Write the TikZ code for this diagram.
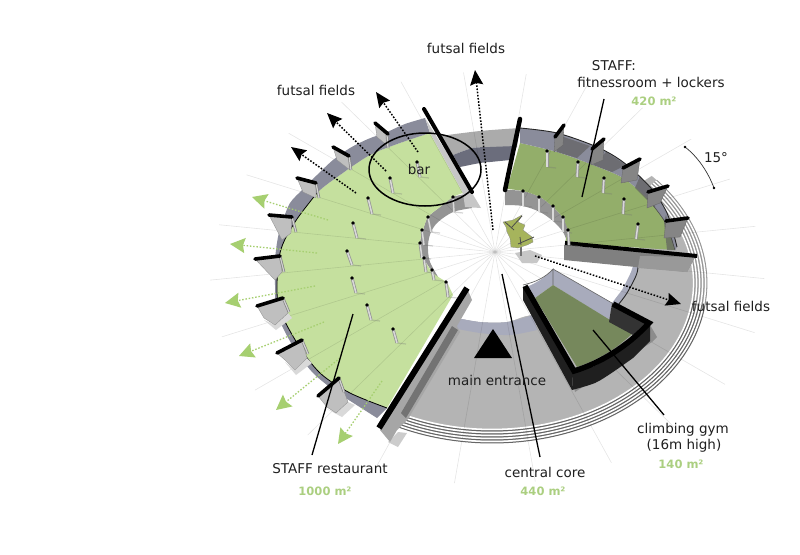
\documentclass[tikz,border=0pt]{standalone}
\usepackage{fontspec}
\setmainfont{DejaVu Sans}
\usetikzlibrary{arrows.meta}
\definecolor{lgreen}{HTML}{C5E09E}
\definecolor{dgreen}{HTML}{93AE6A}
\definecolor{gymgreen}{HTML}{76885C}
\definecolor{gtext}{HTML}{ABCF80}
\definecolor{garrow}{HTML}{A6CF70}
\definecolor{ground}{HTML}{B4B4B4}
\definecolor{bandblue}{HTML}{A8ABBC}
\definecolor{banddark}{HTML}{8A8C9B}
\definecolor{ringdark}{HTML}{6B6D7C}
\definecolor{leaf}{HTML}{A6B45C}
\tikzset{
  x=1pt,y=-1pt,
  lbl/.style={inner sep=0pt,font=\fontsize{13.5}{15}\selectfont,text=black!88},
  area/.style={inner sep=0pt,font=\fontsize{11.5}{14}\selectfont\bfseries,text=gtext},
  leader/.style={draw=black,line width=1.3pt},
  bdot/.style={draw=black,line width=1.5pt,dash pattern=on 1.6pt off 1.6pt,-{Stealth[length=15pt,width=13pt,inset=2pt]}},
  gdot/.style={draw=garrow,line width=1.3pt,dash pattern=on 1.5pt off 1.8pt,-{Stealth[length=15pt,width=15pt,inset=2pt]}},
  finbar/.style={line width=3.6pt,line cap=round,draw=black},
  finL/.style={fill=black!25,draw=black!45,line width=.3pt},
  finR/.style={fill=black!48,draw=black!60,line width=.3pt},
}
\newcommand\postat[4]{%
  \draw[black!55,opacity=.3,line width=1.2pt] (#3,#4) -- ++(9,1);
  \draw[black!42,line width=3pt] (#1,#2) -- (#3,#4);
  \draw[black!15,line width=1.5pt] (#1,#2) -- (#3,#4);
  \fill[black] (#1,#2) circle[radius=1.9];}
\begin{document}
\begin{tikzpicture}
\path[use as bounding box,fill=white] (0,0) rectangle (800,554);

% ground with steps
\fill[ground] plot[domain=-42:118,samples=90] ({492+215*cos(\x)},{283+160*sin(\x)}) -- (470,290) -- cycle;
\foreach \i in {0,3,6,9,12}{
  \draw[white,line width=1.8pt] plot[domain=8:118,samples=70] ({492+(213.6-\i)*cos(\x)},{283+(158.6-\i)*sin(\x)});
  \draw[black!60,line width=1pt] plot[domain=8:118,samples=70] ({492+(215-\i)*cos(\x)},{283+(160-\i)*sin(\x)});
  \draw[white,line width=1.5pt] plot[domain=-40:8,samples=40] ({492+(213.6-\i)*cos(\x)},{283+(158.6-\i)*sin(\x)});
  \draw[black!42,line width=.8pt] plot[domain=-40:8,samples=40] ({492+(215-\i)*cos(\x)},{283+(160-\i)*sin(\x)});
}
% hole
\fill[white] plot[smooth] coordinates {(640,240)(639,253)(637,273)(627,293)(612,308)(585,318)(533,315)(507,322)(480,322)(452,317)} -- (430,250) -- (500,175) -- cycle;
% back ring
\fill[black!33] plot[smooth] coordinates {(440,136)(480,131)(520,128)} -- (517,147) -- plot[smooth] coordinates {(490,147)(473,148)(453,155)} -- cycle;
\fill[ringdark] plot[smooth] coordinates {(453,155)(473,148)(490,147)(517,146)} -- (510,160) -- plot[smooth] coordinates {(490,162)(480,163)(460,167)} -- cycle;
% front ring band
\fill[bandblue] plot[smooth] coordinates {(452,317)(480,322)(507,322)(533,315)} -- plot[smooth] coordinates {(537,330)(510,335)(480,333)(453,328)} -- cycle;
\fill[bandblue] plot[smooth] coordinates {(639,258)(637,273)(627,293)(618,305)} -- (612,303) -- plot[smooth] coordinates {(622,290)(631,272)(635,258)} -- cycle;
\draw[black!85,line width=.9pt] plot[smooth] coordinates {(639,253)(637,273)(627,293)(618,305)};
% inner wall bands (behind the floors)
\fill[black!42] plot[smooth] coordinates {(472,193)(453,197)(440,207)(428,217)(423,230)(420,243)(423,257)(433,273)} -- plot[smooth] coordinates {(443,285)(430,262)(428,245)(431,232)(438,222)(453,212)(472,208)} -- cycle;
\fill[black!42] plot[smooth] coordinates {(505,190)(523,191)(540,197)(553,207)(563,218)(568,230)(565,243)} -- plot[smooth] coordinates {(568,250)(568,245)(563,232)(553,221)(540,212)(523,206)(505,205)} -- cycle;
% green floors
\fill[lgreen] plot[smooth] coordinates {(430,133)(400,143)(370,155)(340,175)(317,193)(295,222)(280,253)(278,303)(297,343)(320,373)(350,393)(387,408)} -- (453,295) -- plot[smooth] coordinates {(447,282)(433,273)(423,257)(420,243)(423,230)(428,217)(440,207)(453,197)(463,193)} -- cycle;
\fill[dgreen] plot[smooth] coordinates {(520,143)(557,152)(593,165)(623,178)(647,198)(665,222)(675,250)} -- (565,243) -- plot[smooth] coordinates {(568,230)(563,218)(553,207)(540,197)(523,191)(507,189)} -- cycle;
% radial lines
\foreach \k in {0,...,23}{
  \pgfmathsetmacro\t{7.5+15*\k}
  \pgfmathsetmacro\a{275+35*sin(\t)-8*cos(\t)}
  \draw[black,opacity=.10,line width=.6pt] (495,252) -- ++({\a*cos(\t)},{.75*\a*sin(\t)});
}
\fill[black!25] (495,252) circle[radius=1.6];
% left wing wall
\fill[banddark] plot[smooth] coordinates {(425,118)(405,124)(387,132)(368,139)(350,148)(333,160)(317,175)(302,190)(290,203)(283,220)(278,237)(275,260)(275,285)(276,310)(285,332)(298,354)(314,374)(335,391)(355,404)(377,418)} -- plot[smooth] coordinates {(387,408)(350,393)(320,373)(297,343)(278,303)(280,253)(295,222)(317,193)(340,175)(370,155)(400,143)(430,133)} -- cycle;
\draw[black,line width=.8pt] plot[smooth] coordinates {(387,408)(350,393)(320,373)(297,343)(278,303)(280,253)(295,222)(317,193)};
% right wing wall
\fill[banddark] plot[smooth] coordinates {(520,128)(557,133)(597,147)(623,162)(650,187)(667,213)(677,247)} -- plot[smooth] coordinates {(675,250)(665,222)(647,198)(623,178)(593,165)(557,152)(520,143)} -- cycle;
\fill[black!62,opacity=.7] (558,135) -- (590,146) -- (577,158) -- (557,152) -- cycle;
\fill[black!62,opacity=.7] (606,152) -- (626,165) -- (612,172) -- (593,165) -- cycle;
\fill[black!62,opacity=.7] (640,176) -- (656,195) -- (655,208) -- (635,188) -- cycle;
\fill[black!62,opacity=.7] (666,215) -- (675,250) -- (667,250) -- (664,222) -- cycle;
\draw[black!85,line width=.9pt] plot[smooth] coordinates {(520,128)(557,133)(597,147)(623,162)(650,187)(667,213)(677,247)};
\draw[black!70,line width=.6pt] plot[smooth] coordinates {(647,198)(665,222)(675,250)};
% right fins
\fill[finR] (564,125) -- (555,137) -- (554,152) -- (563,145) -- cycle;
\fill[finR] (604,139) -- (592,149) -- (591,165) -- (603,160) -- cycle;
\fill[finR] (640,159) -- (623,168) -- (621,183) -- (637,180) -- cycle;
\fill[finR] (668,186) -- (648,192) -- (647,208) -- (660,203) -- cycle;
\fill[finR] (688,218) -- (666,221) -- (664,238) -- (680,237) -- cycle;
\draw[finbar] (555,137) -- (564,125);
\draw[finbar] (592,149) -- (604,139);
\draw[finbar] (623,168) -- (640,159);
\draw[finbar] (648,192) -- (668,186);
\draw[finbar] (666,221) -- (688,218);
% left fins
\fill[finL] (375,123) -- (388,134) -- (388,146) -- (377,137) -- cycle;
\fill[finL] (333,147) -- (349,156) -- (350,170) -- (337,160) -- cycle;
\fill[finL] (297,178) -- (316,183) -- (316,198) -- (303,192) -- cycle;
\fill[finL] (269,215) -- (292,217) -- (291,233) -- (282,240) -- cycle;
\fill[finL] (255,259) -- (280,256) -- (282,272) -- (275,280) -- cycle;
\fill[black!15] (264,320) -- (275,325) -- (288,313) -- (292,318) -- (276,330) -- cycle;
\fill[black!15] (285,362) -- (295,370) -- (307,358) -- (312,363) -- (296,375) -- cycle;
\fill[black!15] (327,409) -- (336,413) -- (348,402) -- (355,405) -- (342,417) -- cycle;
\fill[finL] (257,306) -- (283,298) -- (288,313) -- (275,325) -- (264,318) -- cycle;
\fill[finL] (277,353) -- (302,340) -- (307,358) -- (295,370) -- (285,360) -- cycle;
\fill[finL] (318,396) -- (339,378) -- (348,402) -- (336,413) -- (327,407) -- cycle;
\foreach \ax/\ay/\bx/\by in {387/135/388/148,349/156/351/170,316/183/319/198,292/217/296/232,280/256/284/272,283/298/289/312,302/340/308/354,339/378/344/392}{
  \draw[black!50,line width=2.6pt] (\ax,\ay) -- (\bx,\by);
  \draw[black!18,line width=1.2pt] (\ax,\ay) -- (\bx,\by);
}
\draw[finbar] (375,123) -- (388,134);
\draw[finbar] (333,147) -- (349,156);
\draw[finbar] (297,178) -- (316,183);
\draw[finbar] (269,215) -- (292,217);
\draw[finbar] (255,259) -- (280,256);
\draw[finbar] (257,306) -- (283,298);
\draw[finbar] (277,353) -- (302,340);
\draw[finbar] (318,396) -- (339,378);
% left main walls
\fill[black!22] (425,118) -- (472,193) -- (481,208) -- (465,207) -- (463,193) -- (430,133) -- cycle;
\fill[black!20] (398,432) -- (407,433) -- (398,447) -- (388,442) -- cycle;
\fill[black!35] (380,430) -- (390,442) -- (397,430) -- (472,300) -- (467,288) -- cycle;
\fill[black!35] (397,430) -- (408,419) -- (460,332) -- (452,317) -- (440,325) -- cycle;
\fill[black!55] (458,330) -- (452,326) -- (401,413) -- (406,418) -- cycle;
\draw[line width=4pt,line cap=round] (424,109) -- (472,192);
\draw[line width=6pt] (379,428) -- (467,288);
% right main walls
\fill[black!50] (564,245) -- (564,260) -- (687,272) -- (695,257) -- cycle;
\fill[black!40] (640,256) -- (638,268) -- (687,272) -- (695,257) -- cycle;
\draw[line width=4pt] (565,243) -- (697,256);
\draw[line width=4.5pt,line cap=round] (520,119) -- (505,190);
% posts
\postat{417}{162}{420}{177}
\postat{390}{178}{393}{193}
\postat{368}{198}{372}{214}
\postat{353}{223}{357}{238}
\postat{347}{251}{352}{265}
\postat{352}{278}{356}{293}
\postat{367}{305}{371}{320}
\postat{393}{329}{397}{343}
\postat{547}{151}{547}{167}
\postat{578}{162}{577}{177}
\postat{604}{178}{603}{193}
\postat{624}{199}{623}{214}
\postat{638}{224}{636}{239}
\postat{453}{197}{454}{212}
\postat{428}{217}{431}{232}
\postat{422}{230}{424}{245}
\postat{420}{243}{422}{258}
\postat{424}{258}{426}{272}
\postat{432}{270}{434}{280}
\postat{446}{282}{448}{297}
\postat{523}{191}{523}{206}
\postat{539}{197}{539}{212}
\postat{553}{206}{553}{221}
\postat{563}{217}{563}{232}
\postat{568}{230}{569}{245}
% climbing gym
\fill[black!45] (575,392) -- (652,342) -- (657,337) -- (650,325) -- (572,375) -- cycle;
\fill[black!88] (523,286) -- (523,300) -- (572,390) -- (573,373) -- cycle;
\fill[black!88] (573,373) -- plot[smooth] coordinates {(595,366)(613,355)(633,340)(650,323)} -- (650,341) -- plot[smooth] coordinates {(633,358)(613,372)(595,383)(572,390)} -- cycle;
\fill[bandblue] (527,287) .. controls (536,283) and (546,277) .. (553,269) -- (612,303) -- (609,320) -- (553,285) -- (535,298) -- cycle;
\draw[black!60,line width=.7pt] (523,285) .. controls (536,282) and (546,277) .. (553,269) -- (553,285);
\draw[black!60,line width=.6pt] (553,269) -- (612,303);
\fill[gymgreen] (535,298) -- (553,285) -- (610,320) -- (633,333) .. controls (615,350) and (597,360) .. (577,367) -- cycle;
\fill[black!80] (612,303) -- (609,322) -- (633,335) -- (650,323) -- cycle;
\draw[line width=5.5pt,line join=miter] (525,286) -- (574,371) .. controls (600,363) and (627,347) .. (649,323) -- (613,304);
% entrance
\fill[black] (493,329) -- (512,358) -- (474,358) -- cycle;
% tree
\fill[black!22] (515,253) -- (530,250) -- (542,255) -- (537,263) -- (522,263) -- cycle;
\draw[black!55,line width=1.2pt] (521,246) -- (521,256);
\fill[leaf,draw=black!45,line width=.3pt] (503,222) -- (513,220) -- (522,215) -- (518,222) -- (525,225) -- (523,230) -- (532,237) -- (533,242) -- (527,245) -- (518,248) -- (511,247) -- (510,238) -- (507,232) -- (506,227) -- cycle;
\draw[black!70,line width=.8pt] (512,227) -- (522,216) (505,222) -- (514,230) (518,244) -- (534,237) (520,237) -- (521,245);
% bar ring
\draw[line width=1.5pt] (425,169.5) ellipse[x radius=56,y radius=36.5];
% dotted arrows
\draw[bdot] (493,230) coordinate (a1s) -- (475,70) coordinate (a1e);
\draw[bdot] (418,152) coordinate (a2s) -- (376,92) coordinate (a2e);
\draw[bdot] (386,171) coordinate (a3s) -- (327,113) coordinate (a3e);
\draw[bdot] (356,193) coordinate (a4s) -- (291,147) coordinate (a4e);
\draw[bdot] (535,256) coordinate (a5s) -- (681,304) coordinate (a5e);
\draw[gdot] (328,220) coordinate (g1s) -- (252,197) coordinate (g1e);
\draw[gdot] (317,253) coordinate (g2s) -- (230,244) coordinate (g2e);
\draw[gdot] (315,286) coordinate (g3s) -- (225,303) coordinate (g3e);
\draw[gdot] (324,322) coordinate (g4s) -- (239,356) coordinate (g4e);
\draw[gdot] (340,358) coordinate (g5s) -- (276,410) coordinate (g5e);
\draw[gdot] (382,381) coordinate (g6s) -- (338,444) coordinate (g6e);
% leaders
\draw[leader] (604,99) coordinate (l1a) -- (582,197) coordinate (l1b);
\draw[leader] (353,314) coordinate (l2a) -- (312,455) coordinate (l2b);
\draw[leader] (502,274) coordinate (l3a) -- (540,457) coordinate (l3b);
\draw[leader] (593,330) coordinate (l4a) -- (664,415) coordinate (l4b);
% angle marker
\draw[black!80,line width=.7pt] (685,147) coordinate (m1) .. controls (698,157) and (708,172) .. (714,188) coordinate (m2);
\fill (m1) circle[radius=1.4];
\fill (m2) circle[radius=1.4];
% labels
\node[lbl] (t15) at (716,158) {15°};
\node[lbl] (ff1) at (466,48) {futsal fields};
\node[lbl] (ff2) at (316,90) {futsal fields};
\node[lbl] (ff3) at (731,306) {futsal fields};
\node[lbl] (st1) at (614,66) {STAFF:};
\node[lbl] (st2) at (651,82) {fitnessroom + lockers};
\node[area] (a420) at (654,101) {420 m²};
\node[lbl] (bar) at (419,169) {bar};
\node[lbl] (me) at (497,380) {main entrance};
\node[lbl] (cg1) at (683,430) {climbing gym};
\node[lbl] (cg2) at (684,446) {(16m high)};
\node[area] (a140) at (681,464) {140 m²};
\node[lbl] (cc) at (545,472) {central core};
\node[area] (a440) at (543,491) {440 m²};
\node[lbl] (sr) at (330,469) {STAFF restaurant};
\node[area] (a1000) at (325,491) {1000 m²};
\end{tikzpicture}
\end{document}
